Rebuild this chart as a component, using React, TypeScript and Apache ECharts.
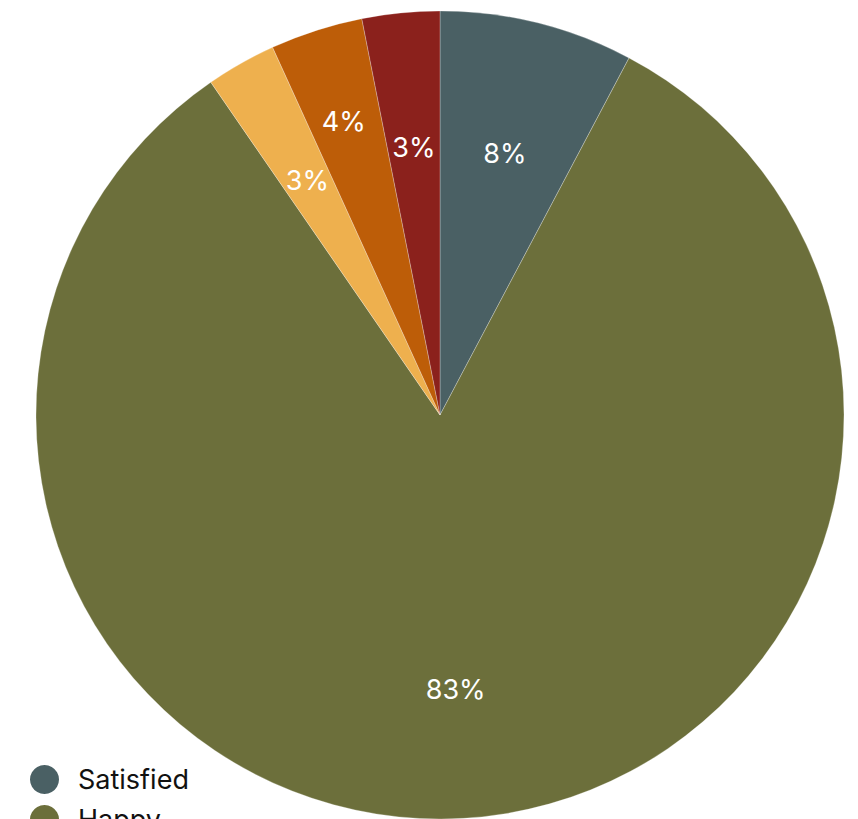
import React, { useEffect, useRef } from "react";
import * as echarts from "echarts";

const categories = ["Satisfied", "Happy", "Neutral", "Unhappy", "Very Unhappy"];
const values = [7.75, 82.65, 2.8, 3.7, 3.1];
const colors = ["#4a6064", "#6c6f3b", "#eeb04e", "#bd5d08", "#8b211c"];

export default function App() {
  const ref = useRef<HTMLDivElement>(null);
  useEffect(() => {
    if (!ref.current) return;
    const chart = echarts.init(ref.current, undefined, { renderer: "svg" });
    const data = categories.map((name, i) => ({
      name,
      value: values[i],
      itemStyle: { color: colors[i] },
    }));
    const labelData = categories.map((name, i) => ({
      name,
      value: values[i],
      label: i === 3 ? { offset: [-14, -37] } : i === 1 ? { offset: [0, 6] } : {},
    }));
    const font = "Inter, 'Liberation Sans', Arial, sans-serif";
    chart.setOption({
      animation: false,
      color: colors,
      legend: {
        orient: "vertical",
        left: 25,
        top: 760,
        height: 400,
        icon: "circle",
        itemWidth: 29,
        itemHeight: 29,
        itemGap: 11,
        data: categories,
        itemStyle: { borderWidth: 0 },
        textStyle: { fontSize: 27, color: "#111", fontFamily: font, padding: [0, 0, 0, 14] },
      },
      series: [
        {
          type: "pie",
          center: [440, 415],
          radius: [0, 404],
          startAngle: 90,
          clockwise: true,
          data,
          label: { show: false },
          labelLine: { show: false },
          itemStyle: { borderColor: "rgba(255,255,255,0.45)", borderWidth: 0.6 },
          silent: true,
        },
        {
          type: "pie",
          center: [440, 415],
          radius: [128, 404],
          startAngle: 90,
          clockwise: true,
          data: labelData,
          legendHoverLink: false,
          itemStyle: { color: "transparent", borderWidth: 0 },
          label: {
            show: true,
            position: "inside",
            color: "#fff",
            fontSize: 27,
            fontFamily: font,
            formatter: (p: any) => Math.round(p.percent) + "%",
          },
          labelLine: { show: false },
          silent: true,
        },
      ],
    });
    return () => chart.dispose();
  }, []);
  return (
    <div
      ref={ref}
      style={{ position: "absolute", left: 0, top: 0, width: 858, height: 819 }}
    />
  );
}
